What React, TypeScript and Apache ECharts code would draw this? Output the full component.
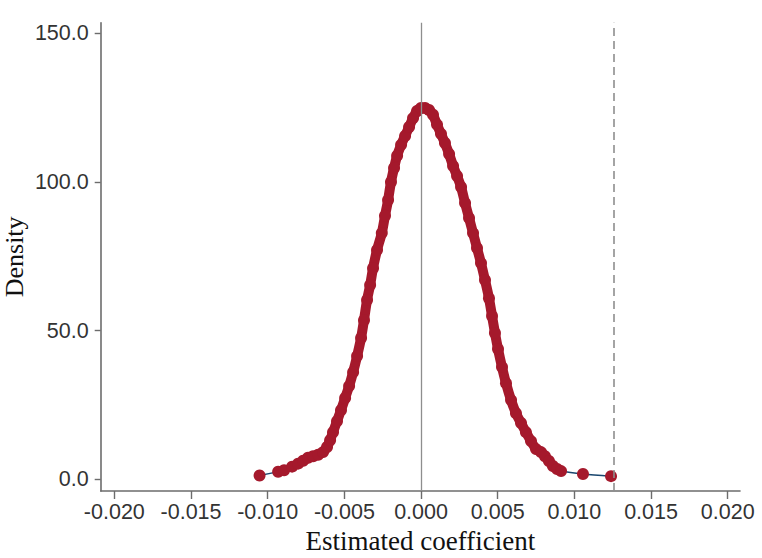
import React, { useEffect, useRef } from "react";
import * as echarts from "echarts";

// Estimated placebo coefficients (x) and their kernel density (y)
const coefficients = [
  -0.01053, -0.00932, -0.00893, -0.00841, -0.00802, -0.00769, -0.00737, -0.00704,
  -0.00671, -0.00639, -0.00613, -0.00593, -0.00574, -0.00548, -0.00522, -0.00495,
  -0.00469, -0.00443, -0.00417, -0.00391, -0.00372, -0.00352, -0.00332, -0.00313,
  -0.00287, -0.00256, -0.00235, -0.00215, -0.00196, -0.00176, -0.00156, -0.0013,
  -0.00104, -0.00078, -0.00052, -0.00026, 0.0, 0.00026, 0.00052, 0.00078,
  0.00104, 0.0013, 0.00156, 0.00183, 0.00209, 0.00235, 0.00261, 0.00287,
  0.00313, 0.00339, 0.00365, 0.00391, 0.00417, 0.00443, 0.00463, 0.00482,
  0.00502, 0.00528, 0.00554, 0.00587, 0.00619, 0.00652, 0.00684, 0.00717,
  0.0075, 0.00782, 0.00808, 0.00834, 0.0086, 0.00887, 0.00913, 0.01056, 0.01239,
];
const densities = [
  1.2, 2.5, 3.0, 4.2, 5.2, 6.2, 7.2, 7.7,
  8.2, 9.1, 10.8, 13.1, 15.8, 19.5, 23.2, 27.3,
  31.3, 36.0, 41.4, 47.5, 53.5, 60.3, 65.3, 71.0,
  77.1, 82.8, 88.6, 93.9, 100.0, 104.7, 108.8, 112.5,
  115.5, 118.5, 121.5, 123.9, 124.9, 124.9, 124.2, 122.6,
  119.3, 116.2, 113.1, 109.4, 105.4, 102.0, 98.3, 92.9,
  87.9, 82.8, 77.8, 72.7, 67.0, 60.9, 54.9, 49.2,
  43.8, 37.7, 32.3, 26.6, 22.2, 18.9, 15.8, 12.8,
  10.1, 9.1, 7.7, 6.1, 4.4, 3.4, 2.7, 1.7, 1.0,
];
const xTicks = [-0.02, -0.015, -0.01, -0.005, 0, 0.005, 0.01, 0.015, 0.02];
const yTicks = [0, 50, 100, 150];
const zeroLine = 0;
const actualEstimate = 0.01254;
const denseRange = [-0.0078, 0.0092];

const RED = "#a5192c";
const BLUE = "#1a476f";
const AXIS = "#6c6c6c";

export default function App() {
  const ref = useRef<HTMLDivElement>(null);
  useEffect(() => {
    const chart = echarts.init(ref.current!, null, { renderer: "svg" });
    const points = coefficients.map((x, i) => [x, densities[i]]);
    const band = points.filter((p) => p[0] >= denseRange[0] && p[0] <= denseRange[1]);
    chart.setOption({
      animation: false,
      backgroundColor: "#ffffff",
      grid: { left: 100.7, right: 22, top: 22.7, bottom: 67, outerBoundsMode: "none", containLabel: false },
      xAxis: {
        type: "value",
        min: -0.02089,
        max: 0.0208,
        name: "Estimated coefficient",
        nameLocation: "middle",
        nameGap: 36,
        nameTextStyle: { fontFamily: "Liberation Serif", fontSize: 27, color: "#111" },
        axisLine: { show: true, onZero: false, lineStyle: { color: AXIS, width: 1.6 } },
        axisTick: { show: true, customValues: xTicks, length: 8, lineStyle: { color: AXIS, width: 1.4 } },
        axisLabel: {
          customValues: xTicks,
          formatter: (v: number) => v.toFixed(3),
          fontFamily: "Liberation Sans",
          fontSize: 21.5,
          color: "#333",
          margin: 10,
        },
        splitLine: { show: false },
      },
      yAxis: {
        type: "value",
        min: -4,
        max: 153.6,
        name: "Density",
        nameLocation: "middle",
        nameMoveOverlap: false,
        nameGap: 73,
        nameTextStyle: { fontFamily: "Liberation Serif", fontSize: 26, color: "#111" },
        axisLine: { show: true, onZero: false, lineStyle: { color: AXIS, width: 1.6 } },
        axisTick: { show: true, customValues: yTicks, length: 6, lineStyle: { color: AXIS, width: 1.4 } },
        axisLabel: {
          customValues: yTicks,
          formatter: (v: number) => v.toFixed(1),
          fontFamily: "Liberation Sans",
          fontSize: 21.5,
          color: "#333",
          margin: 12,
        },
        splitLine: { show: false },
      },
      series: [
        {
          type: "line",
          data: points,
          smooth: 0.3,
          showSymbol: false,
          z: 1,
          lineStyle: { color: BLUE, width: 1.5 },
          markLine: {
            silent: true,
            precision: 6,
            symbol: ["none", "none"],
            label: { show: false },
            data: [
              { xAxis: zeroLine, lineStyle: { color: "#8e8e8e", width: 1.3, type: "solid" } },
              { xAxis: actualEstimate, lineStyle: { color: "#8e8e8e", width: 1.6, type: [8, 5] } },
            ],
          },
        },
        {
          type: "line",
          data: band,
          smooth: 0.3,
          showSymbol: false,
          z: 2,
          lineStyle: { color: RED, width: 10, cap: "round", join: "round" },
        },
        {
          type: "scatter",
          data: points,
          symbol: "circle",
          symbolSize: 12,
          z: 3,
          itemStyle: { color: RED, opacity: 1 },
        },
      ],
    });
    return () => chart.dispose();
  }, []);
  return (
    <div
      ref={ref}
      style={{ position: "fixed", left: 0, top: 0, width: 762, height: 558, background: "#fff" }}
    />
  );
}
